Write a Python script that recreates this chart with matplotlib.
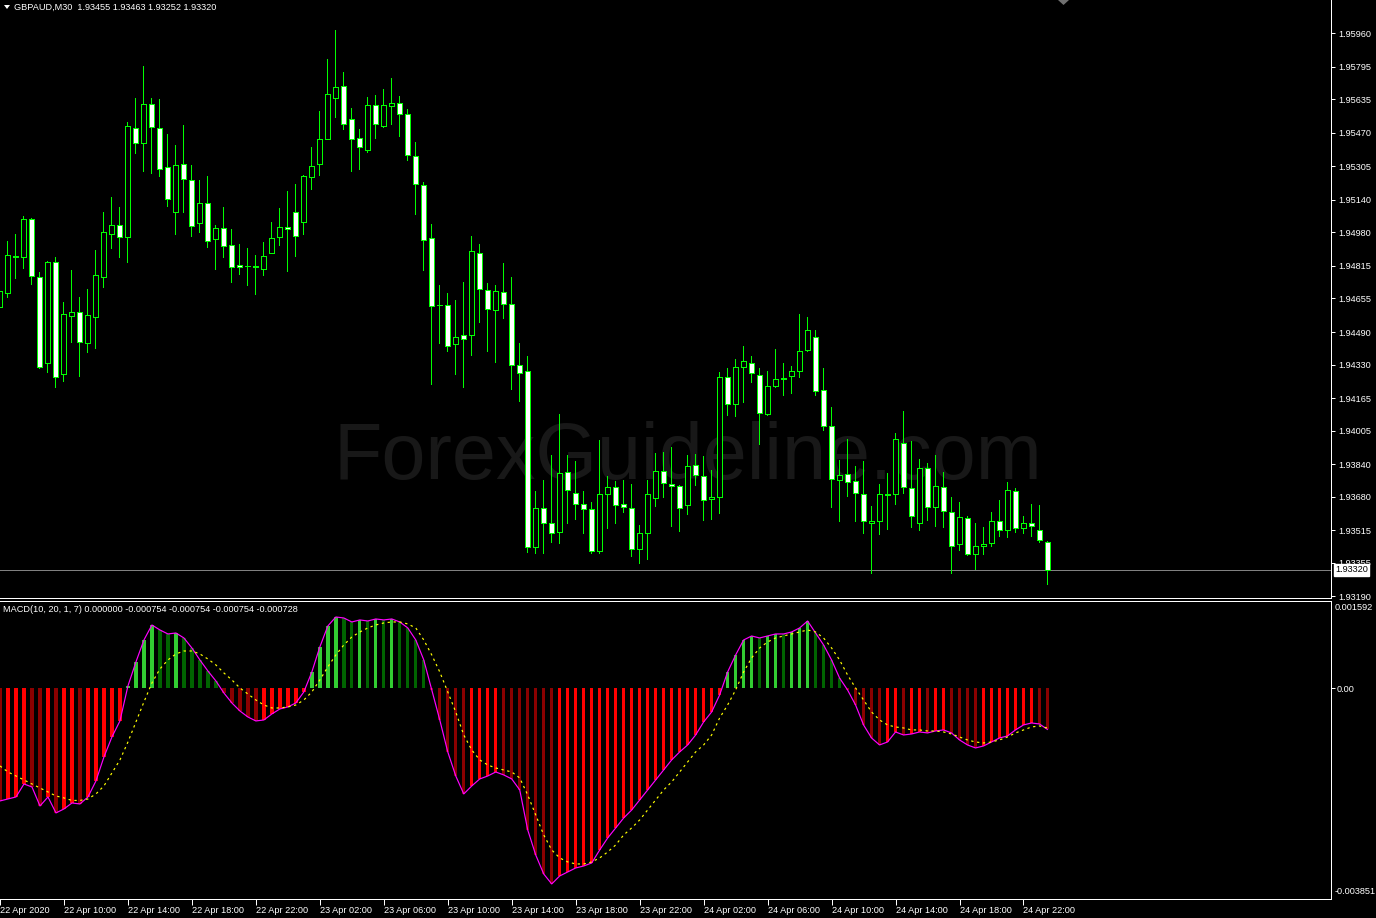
import matplotlib
matplotlib.use('Agg')
import matplotlib.pyplot as plt
import numpy as np
from matplotlib.patches import Polygon
import matplotlib.transforms as mtransforms

# ---------------- data ----------------
symbol_header = "GBPAUD,M30  1.93455 1.93463 1.93252 1.93320"
macd_header = "MACD(10, 20, 1, 7) 0.000000 -0.000754 -0.000754 -0.000754 -0.000728"
watermark = "ForexGuideline.com"

opens = [1.94613, 1.94683, 1.94866, 1.94858, 1.95045, 1.94762, 1.94336, 1.94833, 1.94282, 1.94570,
         1.94587, 1.94437, 1.94565, 1.94762, 1.94971, 1.95015, 1.94956, 1.95493, 1.95422, 1.95611,
         1.95493, 1.95301, 1.95082, 1.95315, 1.95237, 1.95028, 1.95123, 1.94949, 1.95000, 1.94917,
         1.94820, 1.94816, 1.94813, 1.94802, 1.94880, 1.94959, 1.95005, 1.95079, 1.95033, 1.95254,
         1.95318, 1.95441, 1.95643, 1.95699, 1.95537, 1.95446, 1.95387, 1.95606, 1.95505, 1.95601,
         1.95616, 1.95561, 1.95355, 1.95212, 1.94951, 1.94624, 1.94621, 1.94429, 1.94473, 1.94474,
         1.94877, 1.94699, 1.94597, 1.94685, 1.94626, 1.94326, 1.94297, 1.93430, 1.93622, 1.93548,
         1.93507, 1.93799, 1.93696, 1.93642, 1.93617, 1.93411, 1.93691, 1.93726, 1.93642, 1.93622,
         1.93420, 1.93499, 1.93674, 1.93804, 1.93740, 1.93730, 1.93637, 1.93834, 1.93780, 1.93666,
         1.93676, 1.94267, 1.94134, 1.94316, 1.94336, 1.94277, 1.94085, 1.94223, 1.94257, 1.94272,
         1.94297, 1.94400, 1.94464, 1.94203, 1.94026, 1.93760, 1.93790, 1.93755, 1.93691, 1.93548,
         1.93558, 1.93691, 1.93691, 1.93942, 1.93721, 1.93548, 1.93819, 1.93627, 1.93726, 1.93603,
         1.93445, 1.93573, 1.93396, 1.93435, 1.93450, 1.93558, 1.93514, 1.93706, 1.93524, 1.93548,
         1.93514, 1.93455]
highs = [1.94707, 1.94938, 1.94972, 1.95061, 1.95049, 1.94784, 1.94839, 1.94858, 1.94638, 1.94795,
         1.94662, 1.94700, 1.94894, 1.95081, 1.95154, 1.95105, 1.95524, 1.95642, 1.95799, 1.95642,
         1.95637, 1.95465, 1.95410, 1.95509, 1.95312, 1.95238, 1.95258, 1.95017, 1.95105, 1.94997,
         1.94923, 1.94903, 1.94869, 1.94933, 1.95031, 1.95100, 1.95184, 1.95218, 1.95263, 1.95400,
         1.95578, 1.95834, 1.95976, 1.95770, 1.95592, 1.95489, 1.95647, 1.95656, 1.95686, 1.95740,
         1.95652, 1.95588, 1.95425, 1.95228, 1.95020, 1.94721, 1.94680, 1.94647, 1.94736, 1.94962,
         1.94923, 1.94731, 1.94721, 1.94830, 1.94761, 1.94436, 1.94372, 1.93707, 1.93761, 1.93885,
         1.94086, 1.93885, 1.93855, 1.93707, 1.93655, 1.93958, 1.93781, 1.93758, 1.93761, 1.93742,
         1.93540, 1.93761, 1.93894, 1.93899, 1.93924, 1.93735, 1.93885, 1.93889, 1.93880, 1.93811,
         1.94292, 1.94311, 1.94356, 1.94420, 1.94370, 1.94311, 1.94297, 1.94405, 1.94336, 1.94321,
         1.94579, 1.94564, 1.94500, 1.94311, 1.94122, 1.93860, 1.93963, 1.93830, 1.93855, 1.93634,
         1.93742, 1.93796, 1.93993, 1.94101, 1.93953, 1.93865, 1.93845, 1.93885, 1.93801, 1.93678,
         1.93653, 1.93583, 1.93550, 1.93530, 1.93604, 1.93663, 1.93752, 1.93722, 1.93583, 1.93643,
         1.93638, 1.93463]
lows = [1.94598, 1.94664, 1.94757, 1.94806, 1.94728, 1.94314, 1.94295, 1.94221, 1.94250, 1.94442,
        1.94275, 1.94393, 1.94413, 1.94713, 1.94905, 1.94861, 1.94836, 1.95372, 1.95284, 1.95274,
        1.95259, 1.95112, 1.94972, 1.95082, 1.94964, 1.94981, 1.94910, 1.94802, 1.94861, 1.94738,
        1.94775, 1.94721, 1.94678, 1.94770, 1.94878, 1.94918, 1.94792, 1.94865, 1.94972, 1.95195,
        1.95263, 1.95439, 1.95548, 1.95491, 1.95284, 1.95294, 1.95377, 1.95446, 1.95500, 1.95515,
        1.95456, 1.95338, 1.95069, 1.94797, 1.94233, 1.94437, 1.94399, 1.94285, 1.94221, 1.94379,
        1.94541, 1.94398, 1.94344, 1.94560, 1.94212, 1.94152, 1.93409, 1.93404, 1.93401, 1.93458,
        1.93450, 1.93548, 1.93571, 1.93502, 1.93404, 1.93404, 1.93527, 1.93548, 1.93605, 1.93387,
        1.93354, 1.93373, 1.93634, 1.93679, 1.93537, 1.93512, 1.93594, 1.93735, 1.93566, 1.93571,
        1.93601, 1.94080, 1.94075, 1.94144, 1.94242, 1.93937, 1.94080, 1.94218, 1.94178, 1.94188,
        1.94267, 1.94395, 1.94181, 1.94006, 1.93630, 1.93561, 1.93684, 1.93561, 1.93502, 1.93305,
        1.93497, 1.93522, 1.93643, 1.93699, 1.93532, 1.93517, 1.93566, 1.93537, 1.93532, 1.93305,
        1.93415, 1.93391, 1.93322, 1.93396, 1.93435, 1.93487, 1.93479, 1.93507, 1.93502, 1.93487,
        1.93455, 1.93252]
closes = [1.94692, 1.94867, 1.94859, 1.95045, 1.94764, 1.94319, 1.94833, 1.94270, 1.94577, 1.94587,
          1.94442, 1.94572, 1.94769, 1.94981, 1.95015, 1.94956, 1.95502, 1.95419, 1.95611, 1.95497,
          1.95291, 1.95143, 1.95310, 1.95242, 1.95013, 1.95123, 1.94939, 1.95000, 1.94915, 1.94811,
          1.94808, 1.94814, 1.94810, 1.94862, 1.94951, 1.95005, 1.94995, 1.94961, 1.95258, 1.95305,
          1.95438, 1.95660, 1.95694, 1.95512, 1.95438, 1.95399, 1.95606, 1.95512, 1.95606, 1.95616,
          1.95561, 1.95360, 1.95217, 1.94941, 1.94616, 1.94621, 1.94420, 1.94464, 1.94454, 1.94887,
          1.94700, 1.94602, 1.94690, 1.94626, 1.94326, 1.94287, 1.93430, 1.93622, 1.93548, 1.93502,
          1.93794, 1.93711, 1.93642, 1.93617, 1.93411, 1.93691, 1.93726, 1.93637, 1.93627, 1.93420,
          1.93499, 1.93691, 1.93804, 1.93745, 1.93730, 1.93622, 1.93829, 1.93785, 1.93662, 1.93676,
          1.94267, 1.94134, 1.94316, 1.94346, 1.94287, 1.94090, 1.94223, 1.94257, 1.94262, 1.94297,
          1.94395, 1.94498, 1.94198, 1.94026, 1.93765, 1.93785, 1.93750, 1.93696, 1.93558, 1.93558,
          1.93691, 1.93689, 1.93962, 1.93726, 1.93583, 1.93819, 1.93627, 1.93730, 1.93607, 1.93435,
          1.93578, 1.93396, 1.93435, 1.93445, 1.93558, 1.93514, 1.93711, 1.93524, 1.93548, 1.93534,
          1.93465, 1.93320]

macd = [-0.002060, -0.002024, -0.001987, -0.001750, -0.001805, -0.002152, -0.001987, -0.002279, -0.002206, -0.002097,
        -0.002115, -0.001987, -0.001695, -0.001257, -0.000891, -0.000599, 0.000040, 0.000479, 0.000880, 0.001154,
        0.001063, 0.000990, 0.001008, 0.000917, 0.000734, 0.000515, 0.000314, 0.000132, -0.000088, -0.000270,
        -0.000416, -0.000526, -0.000599, -0.000581, -0.000471, -0.000380, -0.000343, -0.000270, -0.000069, 0.000296,
        0.000753, 0.001136, 0.001300, 0.001282, 0.001209, 0.001246, 0.001227, 0.001264, 0.001246, 0.001264,
        0.001209, 0.001100, 0.000880, 0.000515, -0.000033, -0.000581, -0.001165, -0.001604, -0.001932, -0.001786,
        -0.001658, -0.001604, -0.001531, -0.001585, -0.001658, -0.001859, -0.002590, -0.003047, -0.003394, -0.003576,
        -0.003430, -0.003357, -0.003284, -0.003248, -0.003193, -0.002955, -0.002736, -0.002553, -0.002371, -0.002225,
        -0.002042, -0.001859, -0.001677, -0.001494, -0.001311, -0.001165, -0.001037, -0.000855, -0.000617, -0.000435,
        -0.000124, 0.000296, 0.000606, 0.000880, 0.000953, 0.000917, 0.000953, 0.000990, 0.000990, 0.001026,
        0.001100, 0.001227, 0.001008, 0.000789, 0.000515, 0.000186, -0.000033, -0.000307, -0.000672, -0.000910,
        -0.001037, -0.000983, -0.000800, -0.000855, -0.000837, -0.000800, -0.000818, -0.000782, -0.000763, -0.000818,
        -0.000946, -0.001037, -0.001092, -0.001056, -0.000983, -0.000910, -0.000873, -0.000763, -0.000672, -0.000636,
        -0.000654, -0.000754]
signal = [-0.001421, -0.001531, -0.001604, -0.001677, -0.001750, -0.001823, -0.001896, -0.001969, -0.002005, -0.002051,
          -0.002051, -0.002024, -0.001932, -0.001786, -0.001549, -0.001311, -0.000983, -0.000617, -0.000252, 0.000095,
          0.000351, 0.000515, 0.000625, 0.000679, 0.000679, 0.000625, 0.000533, 0.000424, 0.000278, 0.000150,
          0.000004, -0.000106, -0.000216, -0.000307, -0.000362, -0.000362, -0.000343, -0.000307, -0.000216, -0.000069,
          0.000150, 0.000387, 0.000606, 0.000789, 0.000935, 0.001026, 0.001100, 0.001154, 0.001191, 0.001209,
          0.001209, 0.001173, 0.001100, 0.000880, 0.000606, 0.000296, -0.000069, -0.000435, -0.000855, -0.001129,
          -0.001311, -0.001403, -0.001458, -0.001494, -0.001531, -0.001640, -0.001951, -0.002316, -0.002681, -0.002955,
          -0.003101, -0.003174, -0.003211, -0.003211, -0.003174, -0.003101, -0.002992, -0.002864, -0.002681, -0.002553,
          -0.002407, -0.002225, -0.002042, -0.001859, -0.001713, -0.001531, -0.001348, -0.001165, -0.001037, -0.000855,
          -0.000544, -0.000307, -0.000033, 0.000296, 0.000552, 0.000734, 0.000844, 0.000917, 0.000953, 0.000990,
          0.001026, 0.001063, 0.001026, 0.000917, 0.000734, 0.000515, 0.000241, 0.000004, -0.000216, -0.000435,
          -0.000581, -0.000672, -0.000709, -0.000727, -0.000763, -0.000763, -0.000782, -0.000782, -0.000800, -0.000837,
          -0.000891, -0.000946, -0.000983, -0.001001, -0.000983, -0.000946, -0.000891, -0.000818, -0.000763, -0.000709,
          -0.000690, -0.000728]

price_ticks = [1.95960, 1.95795, 1.95635, 1.95470, 1.95305, 1.95140, 1.94980, 1.94815, 1.94655,
               1.94490, 1.94330, 1.94165, 1.94005, 1.93840, 1.93680, 1.93515, 1.93355, 1.93190]
current_price = 1.93320
price_top, price_bottom = 1.96124, 1.93181
macd_top, macd_bottom = 0.001592, -0.003851

time_labels = ["22 Apr 2020", "22 Apr 10:00", "22 Apr 14:00", "22 Apr 18:00", "22 Apr 22:00",
               "23 Apr 02:00", "23 Apr 06:00", "23 Apr 10:00", "23 Apr 14:00", "23 Apr 18:00",
               "23 Apr 22:00", "24 Apr 02:00", "24 Apr 06:00", "24 Apr 10:00", "24 Apr 14:00",
               "24 Apr 18:00", "24 Apr 22:00"]
time_label_bars = [0, 8, 16, 24, 32, 40, 48, 56, 64, 72, 80, 88, 96, 104, 112, 120, 128]

# ---------------- figure ----------------
W, H = 1376, 918
PX = 72 / 100  # one pixel in points
plt.rcParams['font.family'] = ['Liberation Sans', 'DejaVu Sans']
fig = plt.figure(figsize=(W / 100, H / 100), dpi=100, facecolor='black')

plot_right = 1331 / W
ax = fig.add_axes([0, 1 - 598 / H, plot_right, 598 / H], facecolor='black')
axm = fig.add_axes([0, 1 - 899 / H, plot_right, 298 / H], facecolor='black')

x = np.arange(len(opens))
xlim = (0.0875, 166.46)
GREEN = '#00ff00'
FS = 6.6

# watermark
ax.text(0.5165, 1 - 458 / 598, watermark, transform=ax.transAxes, ha='center', va='center',
        color='#181818', fontsize=57, zorder=0)

# candles
o = np.array(opens); h = np.array(highs); l = np.array(lows); c = np.array(closes)
ax.vlines(x, l, h, color=GREEN, lw=PX, zorder=2, antialiased=False)
bull = c >= o
bottoms = np.minimum(o, c)
heights = np.abs(c - o)
ax.bar(x, heights, bottom=bottoms, width=0.58, color=np.where(bull, 'black', 'white'),
       edgecolor=GREEN, linewidth=PX, zorder=3, antialiased=False)

ax.axhline(current_price, color='#808080', lw=PX, zorder=1)

ax.set_xlim(*xlim)
ax.set_ylim(price_bottom, price_top)
ax.set_xticks([])
ax.yaxis.tick_right()
ax.set_yticks(price_ticks)
ax.set_yticklabels([f'{v:.5f}' for v in price_ticks])
ax.tick_params(axis='y', colors='white', labelsize=FS, length=3, width=PX, pad=2, direction='out')
for s in ['top', 'left']:
    ax.spines[s].set_visible(False)
for s in ['right', 'bottom']:
    ax.spines[s].set_color('white')
    ax.spines[s].set_linewidth(PX)

# current price box
trans = mtransforms.blended_transform_factory(ax.transAxes, ax.transData)
ax.text(1.0 + 4 / 1331, current_price, f'{current_price:.5f}', transform=trans, ha='left', va='center',
        fontsize=FS, color='black', zorder=10, clip_on=False,
        bbox=dict(boxstyle='square,pad=0.15', facecolor='white', edgecolor='white'))

# ---------------- MACD ----------------
mv = np.array(macd)
prev = np.concatenate([[mv[0] + 1], mv[:-1]])
rising = mv > prev
cols = np.where(mv >= 0, np.where(rising, '#32cd32', '#006400'),
                np.where(rising, '#ff0000', '#8b0000'))
axm.bar(x, mv, width=0.42, color=cols, zorder=2, antialiased=False)
axm.plot(x, mv, color='#ff00ff', lw=0.85, zorder=3)
axm.plot(x, signal, color='#ffff00', lw=0.85, ls=(0, (2, 3)), zorder=4)

axm.set_xlim(*xlim)
axm.set_ylim(macd_bottom, macd_top)
axm.yaxis.tick_right()
axm.set_yticks([0.0])
axm.set_yticklabels(['0.00'])
axm.tick_params(axis='y', colors='white', labelsize=FS, length=3, width=PX, pad=1, direction='out')
axm.set_xticks(time_label_bars)
axm.set_xticklabels(time_labels, ha='left')
axm.tick_params(axis='x', colors='white', labelsize=FS, length=4, width=PX, pad=1, direction='out')
axm.spines['left'].set_visible(False)
for s in ['top', 'right', 'bottom']:
    axm.spines[s].set_color('white')
    axm.spines[s].set_linewidth(PX)

axm.text(1.0 + 4 / 1331, 1 - 6 / 298, f'{macd_top:.6f}', transform=axm.transAxes, ha='left', va='center',
         fontsize=FS, color='white', clip_on=False)
axm.text(1.0 + 4 / 1331, 7 / 298, f'{macd_bottom:.6f}', transform=axm.transAxes, ha='left', va='center',
         fontsize=FS, color='white', clip_on=False)

# headers
fig.text(14 / W, 1 - 7 / H, symbol_header, color='white', fontsize=FS, ha='left', va='center')
fig.add_artist(Polygon([[4 / W, 1 - 5 / H], [10 / W, 1 - 5 / H], [7 / W, 1 - 9 / H]], closed=True,
                       transform=fig.transFigure, facecolor='white', edgecolor='none'))
fig.text(3 / W, 1 - 609 / H, macd_header, color='white', fontsize=FS, ha='left', va='center')

# chart-shift marker
fig.add_artist(Polygon([[1058 / W, 1.0], [1069 / W, 1.0], [1063.5 / W, 1 - 5 / H]], closed=True,
                       transform=fig.transFigure, facecolor='#707070', edgecolor='none'))

fig.savefig('out.png', dpi=100, facecolor='black')
